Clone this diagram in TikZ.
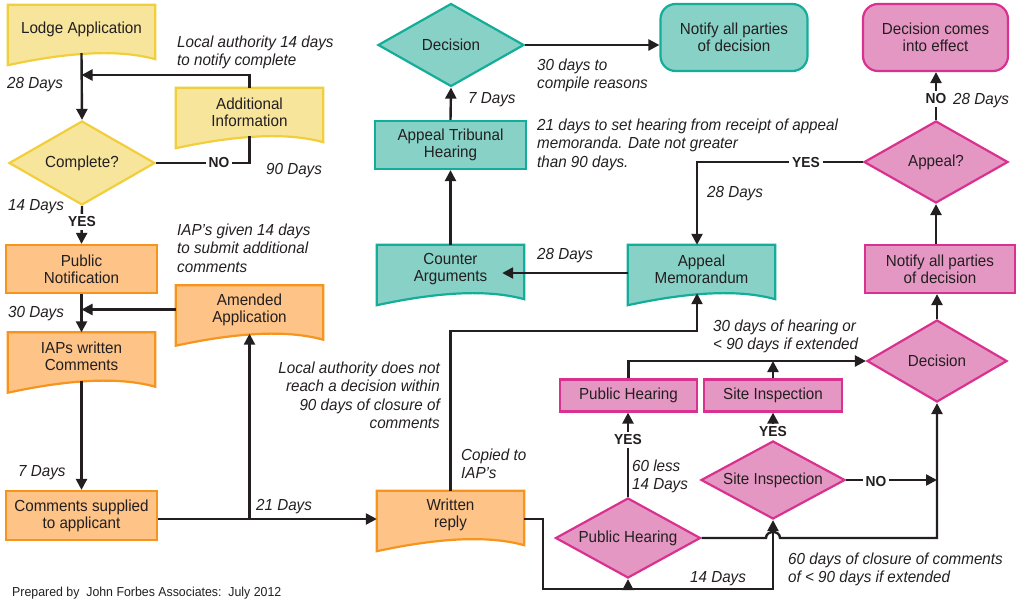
\documentclass[tikz,border=0pt]{standalone}
\usepackage{fontspec}
\setmainfont{Liberation Sans}[FakeStretch=0.95]
\usetikzlibrary{shapes.geometric,arrows.meta}
\pgfdeclarelayer{back}
\pgfsetlayers{back,main}

\definecolor{ink}{HTML}{231F20}
\definecolor{yelF}{HTML}{F7E59C}
\definecolor{yelB}{HTML}{F1CE3C}
\definecolor{ornF}{HTML}{FDC387}
\definecolor{ornB}{HTML}{F7941D}
\definecolor{teaF}{HTML}{87D1C6}
\definecolor{teaB}{HTML}{14AD99}
\definecolor{pnkF}{HTML}{E597C3}
\definecolor{pnkB}{HTML}{D9318F}

\tikzset{
  lbl/.style={font=\fontsize{16}{17}\selectfont, text=ink, align=center, inner sep=0pt},
  doc/.style={lbl, rectangle, minimum width=147pt, minimum height=48pt},
  rbox/.style={lbl, rectangle, minimum width=151pt, minimum height=48pt, line width=2.2pt},
  sbox/.style={lbl, rectangle, minimum width=137pt, minimum height=32pt, line width=2.2pt},
  dia/.style={lbl, diamond, line width=2.2pt},
  dsz/.style n args={3}{minimum width=#1, minimum height=#2, aspect=#3},
  rnd/.style={lbl, rectangle, rounded corners=15pt, minimum height=67pt, line width=2.2pt},
  docsh/.style={line width=2.2pt, line join=miter},
  yel/.style={draw=yelB, fill=yelF},
  orn/.style={draw=ornB, fill=ornF},
  tea/.style={draw=teaB, fill=teaF},
  pnk/.style={draw=pnkB, fill=pnkF},
  wire/.style={draw=ink, line width=2.4pt},
  conn/.style={wire, -{Triangle[length=11pt,width=11pt]}},
  note/.style={font=\itshape\fontsize{16}{18.5}\selectfont, text=ink, inner sep=0pt},
  tag/.style={font=\bfseries\fontsize{14.5}{16}\selectfont, text=ink, fill=white, inner xsep=3pt, inner ysep=2.5pt},
}

% document symbol: flat top, wavy bottom hanging below the node's box
\newcommand{\docpath}[2]{%
  \path[docsh,#2] (#1.north west) -- (#1.north east) -- ([yshift=-6pt]#1.south east)
    .. controls ([xshift=-29pt,yshift=2pt]#1.south east) and ([xshift=74pt,yshift=4pt]#1.south west)
    .. ([yshift=-12pt]#1.south west) -- cycle;}

\begin{document}
\begin{tikzpicture}[x=1pt,y=-1pt]
\useasboundingbox (0,0) rectangle (1033,600);

% ---------- application stage (yellow) ----------
\node[doc] (lodge) at (81.5,29) {Lodge Application};
\node[doc] (addinfo) at (249.5,112) {Additional\\Information};
\node[dia, yel, dsz={146pt}{84pt}{1.738}] (complete) at (82,163) {Complete?};

% ---------- comment stage (orange) ----------
\node[rbox, orn] (pubnot) at (81.5,269) {Public\\Notification};
\node[doc] (amended) at (249.5,309.5) {Amended\\Application};
\node[doc] (iaps) at (81.5,356.5) {IAPs written\\Comments};
\node[rbox, orn, minimum height=49pt] (supplied) at (81.5,515.5) {Comments supplied\\to applicant};
\node[doc] (written) at (450.5,515) {Written\\reply};

% ---------- appeal stage (teal) ----------
\node[dia, tea, dsz={146pt}{83pt}{1.759}] (decT) at (451,45) {Decision};
\node[rnd, tea, minimum width=147pt] (notifyT) at (734,37.5) {Notify all parties\\of decision};
\node[rbox, tea] (tribunal) at (450.5,145) {Appeal Tribunal\\Hearing};
\node[doc] (counter) at (450.5,269) {Counter\\Arguments};
\node[doc] (memo) at (701.5,269) {Appeal\\Memorandum};

% ---------- decision stage (pink) ----------
\node[rnd, pnk, minimum width=145pt] (effect) at (935.5,37.5) {Decision comes\\into effect};
\node[dia, pnk, dsz={144pt}{82pt}{1.756}] (appeal) at (936,162) {Appeal?};
\node[rbox, pnk, minimum width=150pt] (notifyP) at (940,269) {Notify all parties\\of decision};
\node[dia, pnk, dsz={140pt}{82pt}{1.707}] (decP) at (937,361) {Decision};
\node[sbox, pnk] (phbox) at (628.5,395.5) {Public Hearing};
\node[sbox, pnk, minimum width=138pt] (sibox) at (773,395.5) {Site Inspection};
\node[dia, pnk, dsz={144pt}{78pt}{1.846}] (sidia) at (773,480) {Site Inspection};
\node[dia, pnk, dsz={145pt}{80pt}{1.8125}] (phdia) at (628,538) {Public Hearing};

% document symbols behind their labels
\begin{pgfonlayer}{back}
  \docpath{lodge}{yel}
  \docpath{addinfo}{yel}
  \docpath{amended}{orn}
  \docpath{iaps}{orn}
  \docpath{written}{orn}
  \docpath{counter}{tea}
  \docpath{memo}{tea}
\end{pgfonlayer}

% junction points
\coordinate (j1) at (81.5,75);
\coordinate (j3) at (249.5,519);
\coordinate (j4) at (697,331);
\coordinate (j5) at (543,589);
\coordinate (j6) at (0,273);
\coordinate (hopL) at ([xshift=-7pt]sidia.south |- phdia.east);
\coordinate (hopR) at ([xshift=7pt]sidia.south |- phdia.east);

% ---------- connectors ----------
\draw[conn] (lodge.south) -- (complete.north);
\draw[conn] (addinfo.north) |- (j1);
\draw[wire] (complete.east) -| (addinfo.south);
\draw[conn] (complete.south) -- (pubnot.north);
\draw[conn] (pubnot.south) -- (iaps.north);
\draw[conn] (amended.west) -- (amended.west -| pubnot.south);
\draw[conn] (iaps.south) -- (supplied.north);
\draw[conn] (supplied.east |- j3) -- (written.west |- j3);
\draw[conn] (j3) -- (amended.south);
\draw[conn] (written.north) |- (j4) -- (j4 |- memo.south);
\draw[conn] (written.east |- j3) -| (j5) -| (sidia.south);
\draw[conn] (phdia.south |- j5) -- (phdia.south);
\draw[conn] (phdia.east) -- (hopL) .. controls ([yshift=8pt]hopL) and ([yshift=8pt]hopR) .. (hopR)
   -- (phdia.east -| decP.south) -- (decP.south);
\draw[conn] (phdia.north) -- (phdia.north |- phbox.south);
\draw[conn] (sidia.north) -- (sidia.north |- sibox.south);
\draw[conn] (sidia.east) -- (sidia.east -| decP.south);
\draw[conn] (phbox.north) |- (decP.west);
\draw[conn] (sibox.north) -- (sibox.north |- decP.west);
\draw[conn] (decP.north) -- (decP.north |- notifyP.south);
\draw[conn] (appeal.south |- notifyP.north) -- (appeal.south);
\draw[conn] (appeal.north) -- (appeal.north |- effect.south);
\draw[conn] (appeal.west) -| (j4 |- memo.north);
\draw[conn, shorten >=-22pt] (memo.west |- j6) -- (counter.east |- j6);
\draw[conn] (counter.north) -- (tribunal.south);
\draw[conn] (tribunal.north) -- (decT.south);
\draw[conn] (decT.east) -- (decT.east -| notifyT.west);

% ---------- branch tags ----------
\node[tag] (noA) at (219,163) {NO};
\node[tag] (yesA) at (82,222) {YES};
\node[tag] (yesPH) at (628,440) {YES};
\node[tag] (yesSI) at (773,432) {YES};
\node[tag] (noSI) at (876,481) {NO};
\node[tag] (yesAP) at (806,163) {YES};
\node[tag] (noAP) at (936,99) {NO};

% ---------- time notes ----------
\node[note, anchor=north west, align=left] (t1) at (177,35.3) {Local authority 14 days\\to notify complete};
\node[note, anchor=base west] (t2) at (7,88) {28 Days};
\node[note, anchor=base west] (t3) at (266,174) {90 Days};
\node[note, anchor=base west] (t4) at (8,210) {14 Days};
\node[note, anchor=north west, align=left] (t5) at (177,223.3) {IAP’s given 14 days\\to submit additional\\comments};
\node[note, anchor=base west] (t6) at (8,317) {30 Days};
\node[note, anchor=base west] (t7) at (18,476) {7 Days};
\node[note, anchor=base west] (t8) at (256,510) {21 Days};
\node[note, anchor=north east, align=right] (t9) at (440,361.3) {Local authority does not\\reach a decision within\\90 days of closure of\\comments};
\node[note, anchor=north west, align=left] (t10) at (461,448.3) {Copied to\\IAP’s};
\node[note, anchor=north west, align=left] (t11) at (632,459.3) {60 less\\14 Days};
\node[note, anchor=base west] (t12) at (690,582) {14 Days};
\node[note, anchor=north west, align=left] (t13) at (788,552.3) {60 days of closure of comments\\of < 90 days if extended};
\node[note, anchor=north west, align=left] (t14) at (713,319.3) {30 days of hearing or\\< 90 days if extended};
\node[note, anchor=base west] (t15) at (707,197) {28 Days};
\node[note, anchor=base west] (t16) at (953,104) {28 Days};
\node[note, anchor=north west, align=left] (t17) at (537,118.3) {21 days to set hearing from receipt of appeal\\memoranda. Date not greater\\than 90 days.};
\node[note, anchor=north west, align=left] (t18) at (537,58.3) {30 days to\\compile reasons};
\node[note, anchor=base west] (t19) at (468,103) {7 Days};
\node[note, anchor=base west] (t20) at (537,259) {28 Days};

% credit line along the lower edge
\node[font=\fontsize{13}{15}\selectfont, text=ink, anchor=base west, inner sep=0pt] (credit) at (12,596.5) {Prepared by\ \ John Forbes Associates:\ \ July 2012};
\end{tikzpicture}
\end{document}
